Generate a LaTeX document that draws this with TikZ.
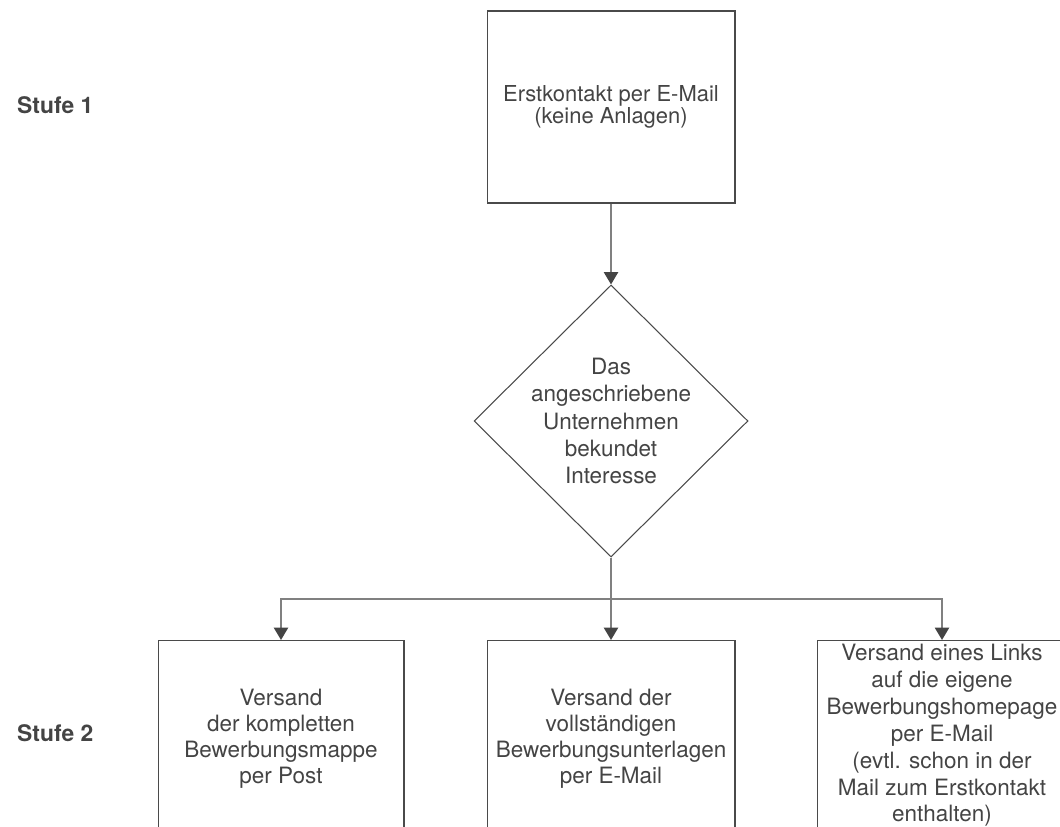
\documentclass[tikz,border=0pt]{standalone}
\usepackage{fontspec}
\setmainfont{TeX Gyre Heros}
\usetikzlibrary{shapes.geometric,arrows.meta}
\definecolor{ink}{HTML}{444444}
\definecolor{frame}{HTML}{4A4A4A}
\definecolor{wire}{HTML}{808080}
\begin{document}
\begin{tikzpicture}[x=0.02cm,y=-0.02cm,
    arr/.style={draw=wire,line width=1.1pt,-{Triangle[length=7pt,width=8pt,color=ink]}}]
      \useasboundingbox (0,0) rectangle (1060,827);
      \clip (0,0) rectangle (1060,827);
      \begin{scope}[every node/.style={draw=frame,line width=0.6pt,text=ink,align=center,inner sep=0pt,
          font=\fontsize{12.8}{14.8}\selectfont}]
        \node[minimum width=4.96cm,minimum height=3.84cm,font=\fontsize{12.5}{12.8}\selectfont]
          (erst) at (611,107) {Erstkontakt per E-Mail\\(keine Anlagen)};
        \node[diamond,minimum width=5.48cm,minimum height=5.44cm,
          label={[draw=none,font=\fontsize{12.8}{15.4}\selectfont,text=ink,align=center]center:Das\\angeschriebene\\Unternehmen\\bekundet\\Interesse}]
          (frage) at (611,421) {};
        \node[anchor=north,minimum width=4.92cm,minimum height=3.92cm]
          (post) at (281,640) {Versand\\der kompletten\\Bewerbungsmappe\\per Post};
        \node[anchor=north,minimum width=4.96cm,minimum height=3.92cm]
          (mail) at (611,640) {Versand der\\vollständigen\\Bewerbungsunterlagen\\per E-Mail};
        \node[anchor=north,minimum width=5cm,minimum height=3.8cm,font=\fontsize{12.8}{15.3}\selectfont]
          (link) at (942,640) {Versand eines Links\\auf die eigene\\Bewerbungshomepage\\per E-Mail\\(evtl. schon in der\\Mail zum Erstkontakt\\enthalten)};
      \end{scope}
      \begin{scope}[every node/.style={anchor=west,text=ink,font=\fontsize{13}{15}\selectfont\bfseries}]
        \node (stufeA) at (11,105) {Stufe 1};
        \node (stufeB) at (11,733) {Stufe 2};
      \end{scope}
      \coordinate (split) at (611,599);
      \draw[arr] (erst) -- (frage);
      \draw[draw=wire,line width=1.1pt] (frage.south) -- (split);
      \draw[arr] (split) -| (post.north);
      \draw[arr] (split) -- (mail.north);
      \draw[arr] (split) -| (link.north);
    \end{tikzpicture}
\end{document}
